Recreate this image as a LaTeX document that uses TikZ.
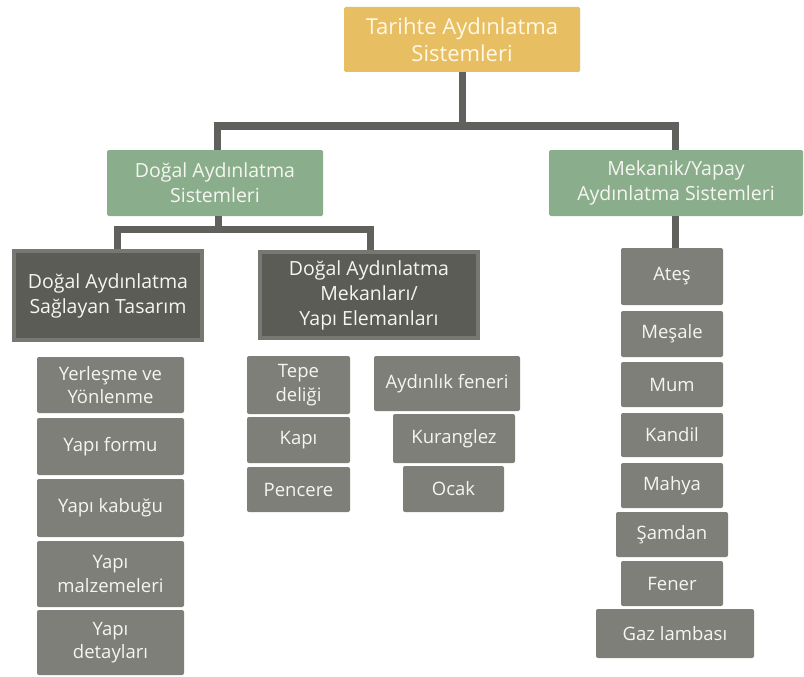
\documentclass[tikz,border=0pt]{standalone}
\usepackage{fontspec}
\setmainfont{Open Sans}
\begin{document}
\definecolor{goldbox}{RGB}{232,190,98}
\definecolor{greenbox}{RGB}{138,173,140}
\definecolor{graybox}{RGB}{127,127,121}
\definecolor{darkbox}{RGB}{92,92,86}
\definecolor{darkedge}{RGB}{120,120,114}
\definecolor{linkgray}{RGB}{96,96,92}
\definecolor{creamtext}{RGB}{255,248,228}
\definecolor{lighttext}{RGB}{246,246,241}
\begin{tikzpicture}[x=1pt,y=-1pt,
  box/.style={rectangle, inner sep=0pt, align=center, text=lighttext},
  rootbox/.style={box, fill=goldbox, text=creamtext, rounded corners=1.5pt,
    font=\fontsize{22}{27}\selectfont},
  groupbox/.style={box, fill=greenbox, rounded corners=1.5pt,
    font=\fontsize{19.5}{25}\selectfont},
  sectionbox/.style={box, fill=darkbox, draw=darkedge, line width=4pt,
    font=\fontsize{19.5}{25}\selectfont},
  itembox/.style={box, fill=graybox, rounded corners=2pt,
    font=\fontsize{18.5}{23.5}\selectfont},
  conn/.style={draw=linkgray, line width=7pt, line join=miter}]
\useasboundingbox (0,0) rectangle (804,677);

% top level
\node[rootbox, minimum width=236pt, minimum height=65pt] (root) at (462,39.5)
  {Tarihte Aydınlatma\\Sistemleri};

% second level
\node[groupbox, minimum width=216pt, minimum height=66pt] (nat) at (215,183)
  {Doğal Aydınlatma\\Sistemleri};
\node[groupbox, minimum width=254pt, minimum height=66pt] (mech) at (676,183)
  {Mekanik/Yapay\\Aydınlatma Sistemleri};

% natural lighting sections
\node[sectionbox, minimum width=188pt, minimum height=89pt] (dk1) at (108,295.5)
  {Doğal Aydınlatma\\Sağlayan Tasarım};
\node[sectionbox, minimum width=218pt, minimum height=86pt] (dk2) at (369,295)
  {Doğal Aydınlatma\\Mekanları/\\Yapı Elemanları};

% design items
\node[itembox, minimum width=147pt, minimum height=56pt] (yer) at (110.5,385) {Yerleşme ve\\Yönlenme};
\node[itembox, minimum width=147pt, minimum height=57pt] (form) at (110.5,446.5) {Yapı formu};
\node[itembox, minimum width=147pt, minimum height=58pt] (kab) at (110.5,508) {Yapı kabuğu};
\node[itembox, minimum width=147pt, minimum height=66pt] (malz) at (110.5,574) {Yapı\\malzemeleri};
\node[itembox, minimum width=147pt, minimum height=65pt] (det) at (110.5,642.5) {Yapı\\detayları};

% spaces / building elements
\node[itembox, minimum width=103pt, minimum height=58pt] (tepe) at (298.5,385) {Tepe\\deliği};
\node[itembox, minimum width=103pt, minimum height=46pt] (kapi) at (298.5,440) {Kapı};
\node[itembox, minimum width=103pt, minimum height=45pt] (pen) at (298.5,489.5) {Pencere};
\node[itembox, minimum width=146pt, minimum height=55pt] (ayd) at (447,383.5) {Aydınlık feneri};
\node[itembox, minimum width=122pt, minimum height=49pt] (kur) at (454,438.5) {Kuranglez};
\node[itembox, minimum width=101pt, minimum height=46pt] (ocak) at (453.5,489) {Ocak};

% artificial light sources
\node[itembox, minimum width=102pt, minimum height=57pt] (ates) at (672,276.5) {Ateş};
\node[itembox, minimum width=102pt, minimum height=46pt] (mes) at (672,334) {Meşale};
\node[itembox, minimum width=102pt, minimum height=45pt] (mum) at (672,384.5) {Mum};
\node[itembox, minimum width=102pt, minimum height=44pt] (kan) at (672,435) {Kandil};
\node[itembox, minimum width=102pt, minimum height=45pt] (mah) at (672,485.5) {Mahya};
\node[itembox, minimum width=112pt, minimum height=45pt] (sam) at (672,534.5) {Şamdan};
\node[itembox, minimum width=102pt, minimum height=45pt] (fen) at (672,583.5) {Fener};
\node[itembox, minimum width=158pt, minimum height=49pt] (gaz) at (675,633.5) {Gaz lambası};

% connectors
\coordinate (j1) at (462,126);
\coordinate (j2) at (218,229);
\draw[conn] (root.south) -- (j1);
\draw[conn] ([xshift=2pt]nat.north) |- (j1) -| ([xshift=-1pt]mech.north);
\draw[conn] ([xshift=3pt]nat.south) -- (j2);
\draw[conn] ([xshift=9pt]dk1.north) |- (j2) -| ([xshift=1pt]dk2.north);
\draw[conn] ([xshift=-1pt]mech.south) -- ([xshift=-1pt]mech.south |- ates.north);
\end{tikzpicture}
\end{document}
